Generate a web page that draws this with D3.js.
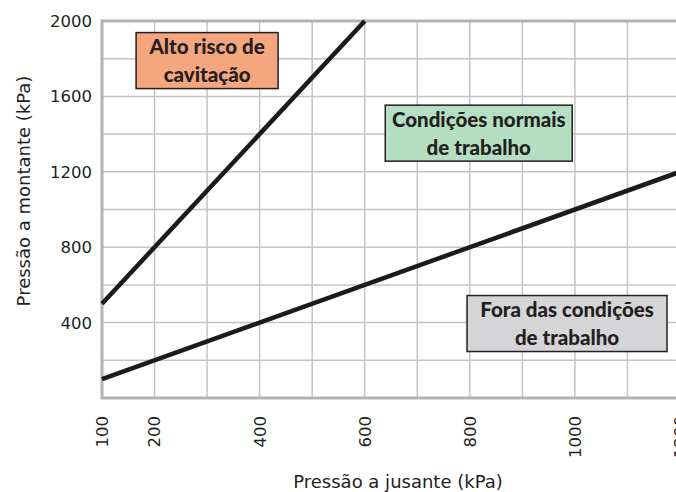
<!DOCTYPE html>
<html>
<head>
<meta charset="utf-8">
<script src="https://cdn.jsdelivr.net/npm/d3@7"></script>
<style>
  body { margin: 0; background: #fff; }
  text { font-family: "DejaVu Sans", sans-serif; fill: #231f20; }
  text.zone { font-family: Lato, sans-serif; font-weight: 900; }
</style>
</head>
<body>
<div id="chart-area"></div>
<script>
// jusante (x) vs montante (y), kPa
const xTicks = [100, 200, 400, 600, 800, 1000, 1200];
const yTicks = [400, 800, 1200, 1600, 2000];
const xGrid = d3.range(100, 1201, 100);
const yGrid = d3.range(200, 2001, 200);

// limit lines
const upperLine = [[100, 500], [600, 2000]];
const lowerLine = [[100, 100], [1200, 1200]];

// zone labels, anchored in data coordinates
const zoneNames = [["Alto risco de", "cavitação"], ["Condições normais", "de trabalho"], ["Fora das condições", "de trabalho"]];
const zoneX = [300, 817, 985];
const zoneY = [1790, 1405, 395];
const zoneFill = ["#f5a67e", "#b4dfc3", "#d5d5d7"];
const zoneW = [142, 187, 200];

const svg = d3.select("#chart-area")
    .append("svg")
    .attr("width", 676)
    .attr("height", 492);

const x = d3.scaleLinear().domain([100, 1200]).range([102, 680]);
const y = d3.scaleLinear().domain([0, 2000]).range([398, 21]);

// grid
svg.append("g").selectAll("line")
    .data(xGrid)
    .enter()
    .append("line")
    .attr("x1", d => x(d)).attr("x2", d => x(d))
    .attr("y1", y(0)).attr("y2", y(2000))
    .attr("stroke", "#c4c4c6")
    .attr("stroke-width", 1.5);

svg.append("g").selectAll("line")
    .data(yGrid)
    .enter()
    .append("line")
    .attr("x1", x(100)).attr("x2", 676)
    .attr("y1", d => y(d)).attr("y2", d => y(d))
    .attr("stroke", "#c4c4c6")
    .attr("stroke-width", 1.5);

// frame: left, top, bottom
svg.append("path")
    .attr("d", `M676,${y(2000)}H${x(100)}V${y(0)}H676`)
    .attr("fill", "none")
    .attr("stroke", "#b3b3b5")
    .attr("stroke-width", 3);

// tick labels
svg.append("g").selectAll("text")
    .data(yTicks)
    .enter()
    .append("text")
    .attr("x", 92)
    .attr("y", d => y(d))
    .attr("dy", "0.36em")
    .attr("text-anchor", "end")
    .attr("font-size", "16.5px")
    .text(d => d);

svg.append("g").selectAll("text")
    .data(xTicks)
    .enter()
    .append("text")
    .attr("transform", d => `translate(${x(d)},416) rotate(-90)`)
    .attr("dy", "0.36em")
    .attr("text-anchor", "end")
    .attr("font-size", "16.5px")
    .text(d => d);

// axis titles
svg.append("text")
    .attr("x", 398)
    .attr("y", 488)
    .attr("text-anchor", "middle")
    .attr("font-size", "18px")
    .text("Pressão a jusante (kPa)");

svg.append("text")
    .attr("transform", "translate(30,191) rotate(-90)")
    .attr("text-anchor", "middle")
    .attr("font-size", "18px")
    .text("Pressão a montante (kPa)");

// limit lines
const line = d3.line().x(d => x(d[0])).y(d => y(d[1]));
svg.selectAll("path.limit")
    .data([upperLine, lowerLine])
    .enter()
    .append("path")
    .attr("class", "limit")
    .attr("d", line)
    .attr("fill", "none")
    .attr("stroke", "#1c1a1b")
    .attr("stroke-width", 4.5);

// zone boxes
zoneNames.forEach((lines, i) => {
    const g = svg.append("g")
        .attr("transform", `translate(${x(zoneX[i])},${y(zoneY[i])})`);
    g.append("rect")
        .attr("x", -zoneW[i] / 2)
        .attr("y", -28)
        .attr("width", zoneW[i])
        .attr("height", 56)
        .attr("fill", zoneFill[i])
        .attr("stroke", "#231f20")
        .attr("stroke-width", 1.5);
    const t = g.append("text")
        .attr("class", "zone")
        .attr("text-anchor", "middle")
        .attr("font-size", "20.5px");
    t.selectAll("tspan")
        .data(lines)
        .enter()
        .append("tspan")
        .attr("x", 0)
        .attr("y", (d, j) => (j - 0.5) * 28)
        .attr("dy", "0.36em")
        .text(d => d);
});
</script>
</body>
</html>
